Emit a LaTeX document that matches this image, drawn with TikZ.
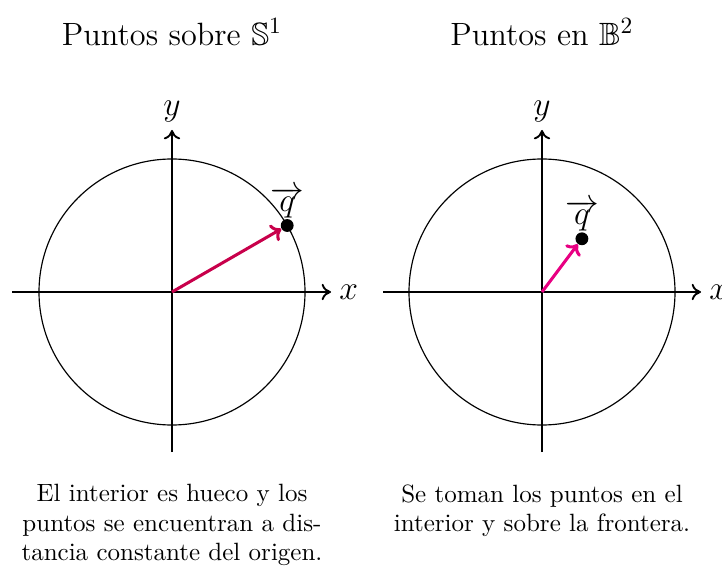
\documentclass[tikz,border=0pt]{standalone}
\usepackage{amssymb}
\usetikzlibrary{arrows.meta,calc}
\definecolor{veccrimson}{RGB}{200,0,75}
\definecolor{vecmagenta}{RGB}{232,0,130}
\tikzset{
  axis/.style={thick,-{To[length=4pt,width=7pt]}},
  disk/.style={line width=0.5pt},
  vecarrow/.style={line width=1.3pt,-{To[length=4pt,width=8pt]}},
  dot/.style={circle,fill=black,inner sep=0pt,minimum size=5.5pt},
  title/.style={font=\fontsize{13.8}{16}\selectfont},
  lbl/.style={font=\Large},
  caption/.style={align=center,font=\fontsize{10.7}{12.6}\selectfont}
}
\begin{document}
\begin{tikzpicture}[x=0.01504cm,y=-0.01504cm]
\useasboundingbox (0,0) rectangle (722,569);
% left panel
\node[title] (t1) at (172,32) {Puntos sobre $\mathbb{S}^1$};
\coordinate (o1) at (172,292);
\coordinate (xl1) at (12,292);
\coordinate (xr1) at (331,292);
\coordinate (yb1) at (172,452);
\coordinate (yt1) at (172,130);
\draw[disk] (o1) circle[radius=133];
\draw[axis] (xl1) -- (xr1);
\draw[axis] (yb1) -- (yt1);
\node[lbl,anchor=west] (xlab1) at (xr1) {$x$};
\node[lbl,anchor=south] (ylab1) at (yt1) {$y$};
\node[dot] (q1) at ($(o1)+(115.2,-66.5)$) {};
\draw[vecarrow,veccrimson] (o1) -- (q1);
\node[lbl,anchor=south,inner sep=1pt] (ql1) at ([yshift=-1pt]q1.north) {$\overrightarrow{q}$};
\node[caption] (c1) at (172,525) {El interior es hueco y los\\puntos se encuentran a dis-\\tancia constante del origen.};
% right panel
\node[title] (t2) at (542,32) {Puntos en $\mathbb{B}^2$};
\coordinate (o2) at (542,292);
\coordinate (xl2) at (383,292);
\coordinate (xr2) at (701,292);
\coordinate (yb2) at (542,452);
\coordinate (yt2) at (542,130);
\draw[disk] (o2) circle[radius=133];
\draw[axis] (xl2) -- (xr2);
\draw[axis] (yb2) -- (yt2);
\node[lbl,anchor=west] (xlab2) at (xr2) {$x$};
\node[lbl,anchor=south] (ylab2) at (yt2) {$y$};
\node[dot] (q2) at ($(o2)+(39.9,-53.2)$) {};
\draw[vecarrow,vecmagenta] (o2) -- (q2);
\node[lbl,anchor=south,inner sep=1pt] (ql2) at ([yshift=-1pt]q2.north) {$\overrightarrow{q}$};
\node[caption] (c2) at (542,511) {Se toman los puntos en el\\interior y sobre la frontera.};
\end{tikzpicture}
\end{document}
